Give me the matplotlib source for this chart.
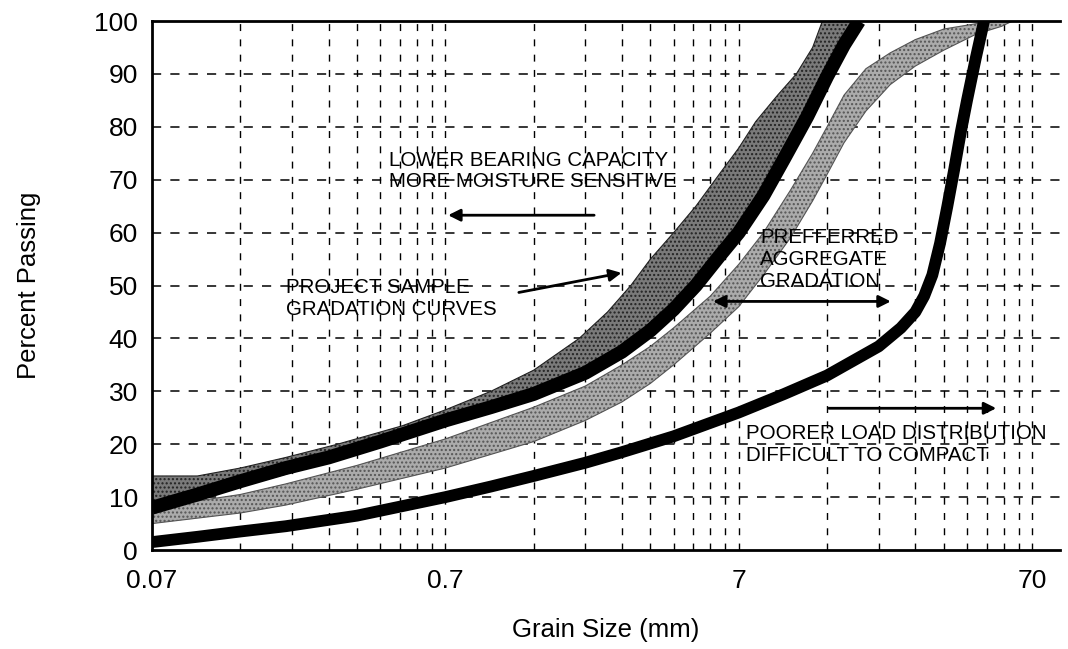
import matplotlib.pyplot as plt
import numpy as np

plt.rcParams['font.family'] = ['Liberation Sans', 'DejaVu Sans']

# Gradation limits (thick black lines)
fine_x = [0.07, 0.1, 0.14, 0.2, 0.28, 0.42, 0.7, 1.0, 1.4, 2.1, 2.8, 3.5, 4.2, 5.0, 6.0, 7.0, 8.5, 10, 12, 14, 16, 18]
fine_y = [8, 10.5, 13, 15.5, 17.5, 20.5, 24.5, 27, 29.5, 33.5, 37.5, 41.5, 45.5, 50, 55.5, 60, 67, 74, 82, 89.5, 95.5, 100]

coarse_x = [0.07, 0.1, 0.14, 0.2, 0.35, 0.7, 1.0, 1.4, 2.1, 2.8, 4.2, 7, 10, 14, 21, 25, 28, 30, 32, 34, 36, 38, 40, 42, 45, 48]
coarse_y = [1.5, 2.5, 3.5, 4.5, 6.5, 10, 12, 14, 16.5, 18.5, 21.5, 26, 29.5, 33, 38.5, 42, 45, 48, 52, 58, 65, 72, 79, 85, 93, 100]

# Project sample gradation bands (upper / lower edges)
bandA_up_x = [0.07, 0.1, 0.14, 0.2, 0.3, 0.5, 0.7, 1.0, 1.4, 2.0, 2.5, 3.0, 3.5, 4.2, 5, 6, 7, 8, 9.5, 11, 12.5, 13.5]
bandA_up_y = [14, 14, 15.5, 17.5, 20, 23.5, 26.5, 30, 34, 40, 45, 50, 55, 60, 65, 71, 76, 81, 86, 90, 95, 100]
bandA_lo_x = [0.07, 0.14, 0.3, 0.7, 1.4, 2.1, 2.8, 3.5, 4.2, 5, 6, 7, 8.5, 10, 12, 14, 16, 18]
bandA_lo_y = [9, 12, 17, 24, 29, 33.5, 37, 41, 45, 50, 56, 61, 68, 74, 81, 88, 94, 100]

bandB_up_x = [0.07, 0.14, 0.2, 0.35, 0.7, 1.4, 2.1, 2.8, 3.5, 4.2, 5.6, 7, 8.5, 10.5, 12.5, 14, 16, 19, 23, 28, 35, 45, 52]
bandB_up_y = [8, 10.5, 12.5, 16, 21, 27, 31, 35, 38.5, 42, 48, 54, 60, 68, 75, 80, 86, 91, 94, 96.5, 98.5, 99.5, 100]
bandB_lo_x = [0.07, 0.14, 0.2, 0.35, 0.7, 1.4, 2.1, 2.8, 3.5, 4.2, 5.6, 7, 8.5, 10.5, 12.5, 14, 16, 19, 23, 28, 35, 45, 55, 60]
bandB_lo_y = [5, 7, 8.5, 11.5, 15.5, 20.5, 24.5, 28, 31.5, 35, 41, 46, 52, 59, 66, 71, 77, 83, 88, 91.5, 94.5, 97.5, 99, 100]

xticks = [0.07, 0.7, 7, 70]
xtick_labels = ['0.07', '0.7', '7', '70']
yticks = list(range(0, 101, 10))

fig = plt.figure(figsize=(10.68, 6.49), dpi=100)
ax = fig.add_axes([0.1423, 0.1525, 0.85, 0.815])
ax.set_xscale('log')
ax.set_xlim(0.07, 87)
ax.set_ylim(0, 100)

# grid
minor = [0.07 * k * 10**n for n in range(3) for k in range(2, 11)]
for gx in minor:
    ax.axvline(gx, color='black', lw=1.0, ls=(0, (5, 6)), zorder=1)
for gy in yticks[1:]:
    ax.axhline(gy, color='black', lw=1.1, ls=(0, (6, 6)), zorder=1)

# bands
ax.fill(bandB_up_x + bandB_lo_x[::-1], bandB_up_y + bandB_lo_y[::-1],
        facecolor='#ababab', edgecolor='#555555', hatch='....', lw=0.8, zorder=2)
ax.fill(bandA_up_x + bandA_lo_x[::-1], bandA_up_y + bandA_lo_y[::-1],
        facecolor='#7a7a7a', edgecolor='#222222', hatch='....', lw=0.8, zorder=2)

# limits
ax.plot(fine_x, fine_y, color='black', lw=10, solid_capstyle='butt', zorder=3)
ax.plot(coarse_x, coarse_y, color='black', lw=8.5, solid_capstyle='butt', zorder=3)

# annotations
fs = 14.8
ls = 1.2
ax.text(0.45, 71.6, 'LOWER BEARING CAPACITY\nMORE MOISTURE SENSITIVE', fontsize=fs,
        va='center', ha='left', linespacing=1.15, zorder=4)
ax.annotate('', xy=(0.7, 63.3), xytext=(2.3, 63.3),
            arrowprops=dict(arrowstyle='-|>', color='black', lw=2, mutation_scale=18), zorder=4)

ax.text(0.2, 47.5, 'PROJECT SAMPLE\nGRADATION CURVES', fontsize=fs,
        va='center', ha='left', linespacing=ls, zorder=4)
ax.annotate('', xy=(2.85, 52.5), xytext=(1.22, 48.6),
            arrowprops=dict(arrowstyle='-|>', color='black', lw=2, mutation_scale=18), zorder=4)

ax.text(8.3, 55, 'PREFFERRED\nAGGREGATE\nGRADATION', fontsize=fs,
        va='center', ha='left', linespacing=ls, zorder=4)
ax.annotate('', xy=(5.6, 47), xytext=(23.6, 47),
            arrowprops=dict(arrowstyle='<|-|>', color='black', lw=2, mutation_scale=18), zorder=4)

ax.text(7.4, 20, 'POORER LOAD DISTRIBUTION\nDIFFICULT TO COMPACT', fontsize=fs,
        va='center', ha='left', linespacing=ls, zorder=4)
ax.annotate('', xy=(54, 26.8), xytext=(13.9, 26.8),
            arrowprops=dict(arrowstyle='-|>', color='black', lw=2, mutation_scale=18), zorder=4)

ax.set_xticks(xticks)
ax.set_xticklabels(xtick_labels)
ax.xaxis.set_minor_locator(plt.NullLocator())
ax.set_yticks(yticks)
ax.tick_params(length=0, labelsize=19)
ax.tick_params(axis='x', pad=14)
ax.tick_params(axis='y', pad=10)
ax.spines['right'].set_visible(False)
for s in ['left', 'bottom', 'top']:
    ax.spines[s].set_linewidth(2)

ax.set_xlabel('Grain Size (mm)', fontsize=18.5, labelpad=18)
ax.set_ylabel('Percent Passing', fontsize=18.5, labelpad=38)

fig.savefig('out.png', dpi=100)
